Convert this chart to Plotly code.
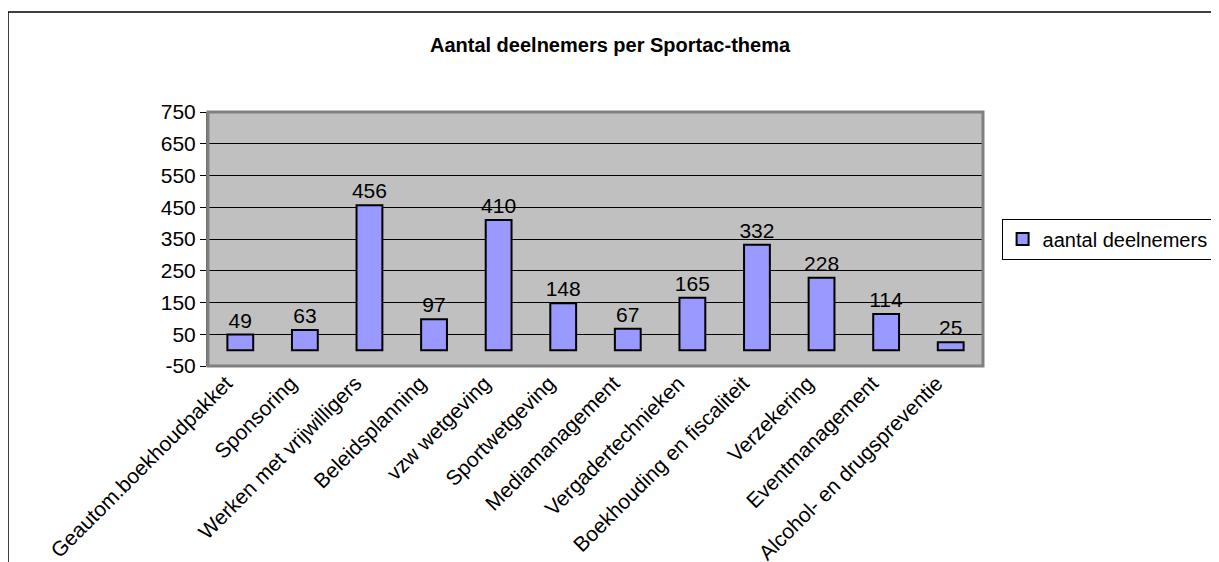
import plotly.graph_objects as go

categories = [
    "Geautom.boekhoudpakket", "Sponsoring", "Werken met vrijwilligers",
    "Beleidsplanning", "vzw wetgeving", "Sportwetgeving", "Mediamanagement",
    "Vergadertechnieken", "Boekhouding en fiscaliteit", "Verzekering",
    "Eventmanagement", "Alcohol- en drugspreventie",
]
deelnemers = [49, 63, 456, 97, 410, 148, 67, 165, 332, 228, 114, 25]
y_ticks = [-50, 50, 150, 250, 350, 450, 550, 650, 750]
y_min, y_max = -50, 750

FONT = "Liberation Sans, Arial, sans-serif"

# page body has an 8px margin, so the figure is drawn 8px smaller
W, H = 1211, 554

fig = go.Figure()
fig.add_trace(go.Bar(
    x=categories, y=deelnemers, name="aantal deelnemers",
    marker=dict(color="#9999FF", line=dict(color="black", width=2)),
    text=deelnemers, textposition="outside", cliponaxis=False,
    constraintext="none", textfont=dict(size=21, color="black"),
))

# category ticks on the zero line (Excel-style crossing axis)
fig.update_layout(xaxis2=dict(
    overlaying="x", anchor="free", position=(0 - y_min) / (y_max - y_min),
    range=[-0.5, len(categories) - 0.5], showgrid=False, zeroline=False,
    showline=True, linecolor="#505050", linewidth=2,
    tickvals=[i + 0.5 for i in range(len(categories))], ticks="outside",
    ticklen=7, tickcolor="#303030", tickwidth=1.5, showticklabels=False,
    side="bottom",
))

fig.update_layout(
    width=W, height=H,
    margin=dict(l=200, r=236, t=104, b=196, autoexpand=False),
    paper_bgcolor="white", plot_bgcolor="#C0C0C0",
    font=dict(family=FONT, size=21, color="black"),
    title=dict(text="<b>Aantal deelnemers per Sportac-thema</b>",
               x=602 / W, xanchor="center", xref="container",
               y=1 - 37 / H, yanchor="middle", yref="container",
               font=dict(size=20)),
    bargap=0.6, showlegend=True,
    legend=dict(x=1.024, y=0.5, xanchor="left", yanchor="middle",
                bordercolor="black", borderwidth=1, font=dict(size=20),
                itemwidth=30),
    xaxis=dict(type="category", tickangle=-45, showgrid=False,
               showline=False, ticks="", zeroline=False,
               ticklabelshift=-14, automargin=False),
    yaxis=dict(range=[y_min, y_max], tickvals=y_ticks,
               ticktext=[str(v) for v in y_ticks], showgrid=True,
               gridcolor="black", gridwidth=1, zeroline=False,
               showline=True, linecolor="#606060", linewidth=2,
               ticks="outside", ticklen=6, tickcolor="black",
               automargin=False),
    shapes=[
        dict(type="rect", xref="paper", yref="paper", x0=0, x1=1, y0=0, y1=1,
             line=dict(color="#808080", width=3), layer="above"),
        dict(type="rect", xref="paper", yref="paper",
             x0=(8 - 208) / 775, x1=1.5, y0=-1.0, y1=(366 - 12) / 254,
             line=dict(color="black", width=1.5), layer="below"),
    ],
)

fig.write_html("out.html")
